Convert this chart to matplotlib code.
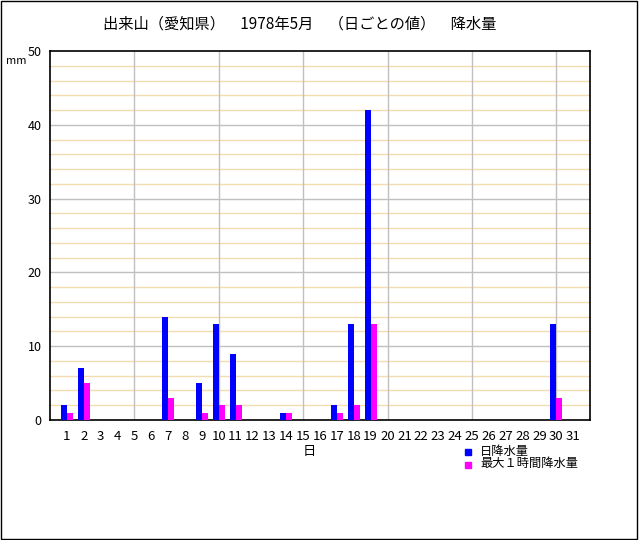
import matplotlib
matplotlib.use('Agg')
import matplotlib.pyplot as plt
import numpy as np
from matplotlib.patches import Rectangle

plt.rcParams['font.family'] = ['Noto Sans CJK JP', 'DejaVu Sans']

days = list(range(1, 32))
# 日降水量 / 最大1時間降水量 (mm), 0 where no rain
daily = {1: 2, 2: 7, 7: 14, 9: 5, 10: 13, 11: 9, 14: 1, 17: 2, 18: 13, 19: 42, 30: 13}
hourly = {1: 1, 2: 5, 7: 3, 9: 1, 10: 2, 11: 2, 14: 1, 17: 1, 18: 2, 19: 13, 30: 3}
daily_vals = [daily.get(d, 0) for d in days]
hourly_vals = [hourly.get(d, 0) for d in days]

title = '出来山（愛知県）　1978年5月　（日ごとの値）　降水量'
legend_labels = ['日降水量', '最大１時間降水量']

fig = plt.figure(figsize=(6.4, 5.4), dpi=100)
ax = fig.add_axes([50 / 640, 1 - 420 / 540, 540 / 640, 369 / 540])

x = np.array(days)
w = 0.36
ax.bar(x - w / 2, daily_vals, width=w, color='#0000ff', zorder=3)
ax.bar(x + w / 2, hourly_vals, width=w, color='#ff00ff', zorder=3)

ax.set_xlim(0, 32)
ax.set_ylim(0, 50)

# grid lines
for yv in np.arange(2, 50, 2):
    c = '#c0c0c0' if yv % 10 == 0 else '#f2dcb0'
    ax.axhline(yv, color=c, lw=1, zorder=1)
for xv in range(5, 32, 5):
    ax.axvline(xv, color='#c0c0c0', lw=1, zorder=1)

ax.set_xticks(days)
ax.set_xticklabels([str(d) for d in days], fontsize=9.5)
ax.set_yticks(range(0, 51, 10))
ax.set_yticklabels([str(v) for v in range(0, 51, 10)], fontsize=9)
ax.tick_params(axis='x', length=0, pad=7)
ax.tick_params(axis='y', length=0, pad=6)
for s in ax.spines.values():
    s.set_linewidth(1.2)
    s.set_color('black')

fig.text(300 / 640, 1 - 24 / 540, title, ha='center', va='center', fontsize=11)
fig.text(16 / 640, 1 - 61 / 540, 'mm', ha='center', va='center', fontsize=8)
fig.text(309 / 640, 1 - 452 / 540, '日', ha='center', va='center', fontsize=9.5)

# legend
fig.patches.append(Rectangle((465 / 640, 1 - 455 / 540), 6 / 640, 6 / 540,
                             transform=fig.transFigure, color='#0000ff'))
fig.patches.append(Rectangle((465 / 640, 1 - 468 / 540), 6 / 640, 6 / 540,
                             transform=fig.transFigure, color='#ff00ff'))
fig.text(480 / 640, 1 - 451 / 540, legend_labels[0], ha='left', va='center', fontsize=8.8)
fig.text(480 / 640, 1 - 464 / 540, legend_labels[1], ha='left', va='center', fontsize=8.8)

# outer frame
fig.patches.append(Rectangle((0.5 / 640, 1.5 / 540), 636.5 / 640, 538 / 540,
                             transform=fig.transFigure, fill=False,
                             edgecolor='black', lw=1))

fig.savefig('out.png', dpi=100)
